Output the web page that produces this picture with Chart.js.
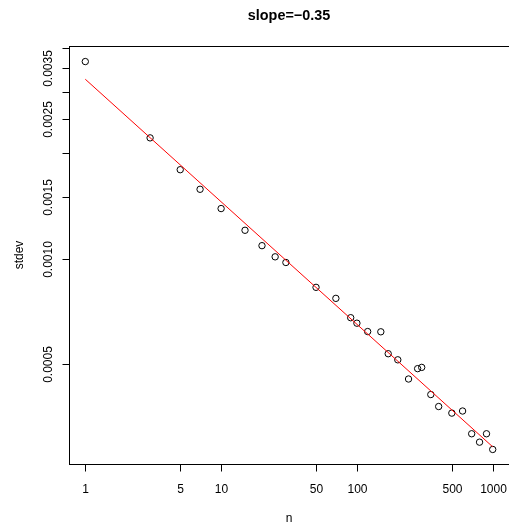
<!DOCTYPE html>
<html>
<head>
<meta charset="utf-8">
<script src="https://cdn.jsdelivr.net/npm/chart.js@4"></script>
<style>
  html, body { margin: 0; padding: 0; background: #fff; overflow: hidden; }
  #wrap { width: 509px; height: 523px; overflow: hidden; }
</style>
</head>
<body>
<div id="wrap"><canvas id="chart" width="514" height="523"></canvas></div>
<script>
// data (log-log)
const nValues = [1, 3, 5, 7, 10, 15, 20, 25, 30, 50, 70, 90, 100, 120, 150, 170, 200, 240, 280, 300, 350, 400, 500, 600, 700, 800, 900, 1000];
const sdValues = [0.003656, 0.002213, 0.001795, 0.001578, 0.00139, 0.001205, 0.001089, 0.001012, 0.000975, 0.000828, 0.00077, 0.000678, 0.000654, 0.000619, 0.000618, 0.000535, 0.000514, 0.000453, 0.000485, 0.000489, 0.000409, 0.000378, 0.000362, 0.000367, 0.000316, 0.000299, 0.000316, 0.000285];
const fitN = [1, 1000];
const fitSd = [0.003255, 0.00029];

const xTicks = [1, 5, 10, 50, 100, 500, 1000];
const xTickLabels = ['1', '5', '10', '50', '100', '500', '1000'];
const yTicks = [0.0005, 0.0010, 0.0015, 0.0020, 0.0025, 0.0030, 0.0035, 0.0040];
const yTickLabels = ['0.0005', '0.0010', '0.0015', '', '0.0025', '', '0.0035', ''];

const titleText = 'slope=\u22120.35';
const xTitle = 'n';
const yTitle = 'stdev';

const FONT = '"Liberation Sans", Arial, Helvetica, sans-serif';

// R-style box, ticks and labels, placed through the chart scales
const rAxes = {
  id: 'rAxes',
  afterDraw(chart) {
    const { ctx, chartArea: a, scales: { x, y } } = chart;
    const L = Math.round(a.left) + 0.5;
    const T = Math.round(a.top) + 0.5;
    const R = Math.round(a.right) + 0.5;
    const B = Math.round(a.bottom) + 0.5;
    const midX = (a.left + a.right) / 2;
    const midY = (a.top + a.bottom) / 2;

    ctx.save();
    ctx.strokeStyle = '#000';
    ctx.fillStyle = '#000';
    ctx.lineWidth = 1;
    ctx.strokeRect(L, T, R - L, B - T);

    ctx.font = '12px ' + FONT;
    ctx.textAlign = 'center';
    ctx.textBaseline = 'alphabetic';

    xTicks.forEach((v, i) => {
      const px = Math.round(x.getPixelForValue(v)) + 0.5;
      ctx.beginPath();
      ctx.moveTo(px, B);
      ctx.lineTo(px, B + 7);
      ctx.stroke();
      ctx.fillText(xTickLabels[i], px, a.bottom + 29);
    });

    yTicks.forEach((v, i) => {
      const py = Math.round(y.getPixelForValue(v)) + 0.5;
      ctx.beginPath();
      ctx.moveTo(L, py);
      ctx.lineTo(L - 7, py);
      ctx.stroke();
      if (yTickLabels[i]) {
        ctx.save();
        ctx.translate(a.left - 17.3, py);
        ctx.rotate(-Math.PI / 2);
        ctx.fillText(yTickLabels[i], 0, 0);
        ctx.restore();
      }
    });

    ctx.fillText(xTitle, midX, a.bottom + 58);
    ctx.save();
    ctx.translate(a.left - 46, midY);
    ctx.rotate(-Math.PI / 2);
    ctx.fillText(yTitle, 0, 0);
    ctx.restore();

    ctx.font = 'bold 14.4px ' + FONT;
    ctx.fillText(titleText, midX, 20);
    ctx.restore();
  }
};

new Chart(document.getElementById('chart'), {
  type: 'scatter',
  data: {
    datasets: [
      {
        data: fitN.map((n, i) => ({ x: n, y: fitSd[i] })),
        showLine: true,
        borderColor: '#ff0000',
        borderWidth: 1,
        pointRadius: 0,
        order: 0
      },
      {
        data: nValues.map((n, i) => ({ x: n, y: sdValues[i] })),
        pointStyle: 'circle',
        pointRadius: 3.2,
        pointBorderWidth: 1,
        pointBorderColor: '#000',
        pointBackgroundColor: 'rgba(0,0,0,0)',
        order: 1
      }
    ]
  },
  options: {
    responsive: false,
    devicePixelRatio: 1,
    animation: false,
    layout: { padding: { left: 69, top: 46, right: 3, bottom: 59 } },
    scales: {
      x: { type: 'logarithmic', display: false, min: 0.7586, max: 1318 },
      y: { type: 'logarithmic', display: false, min: 0.000259, max: 0.00405 }
    },
    plugins: {
      legend: { display: false },
      tooltip: { enabled: false }
    }
  },
  plugins: [rAxes]
});
</script>
</body>
</html>
